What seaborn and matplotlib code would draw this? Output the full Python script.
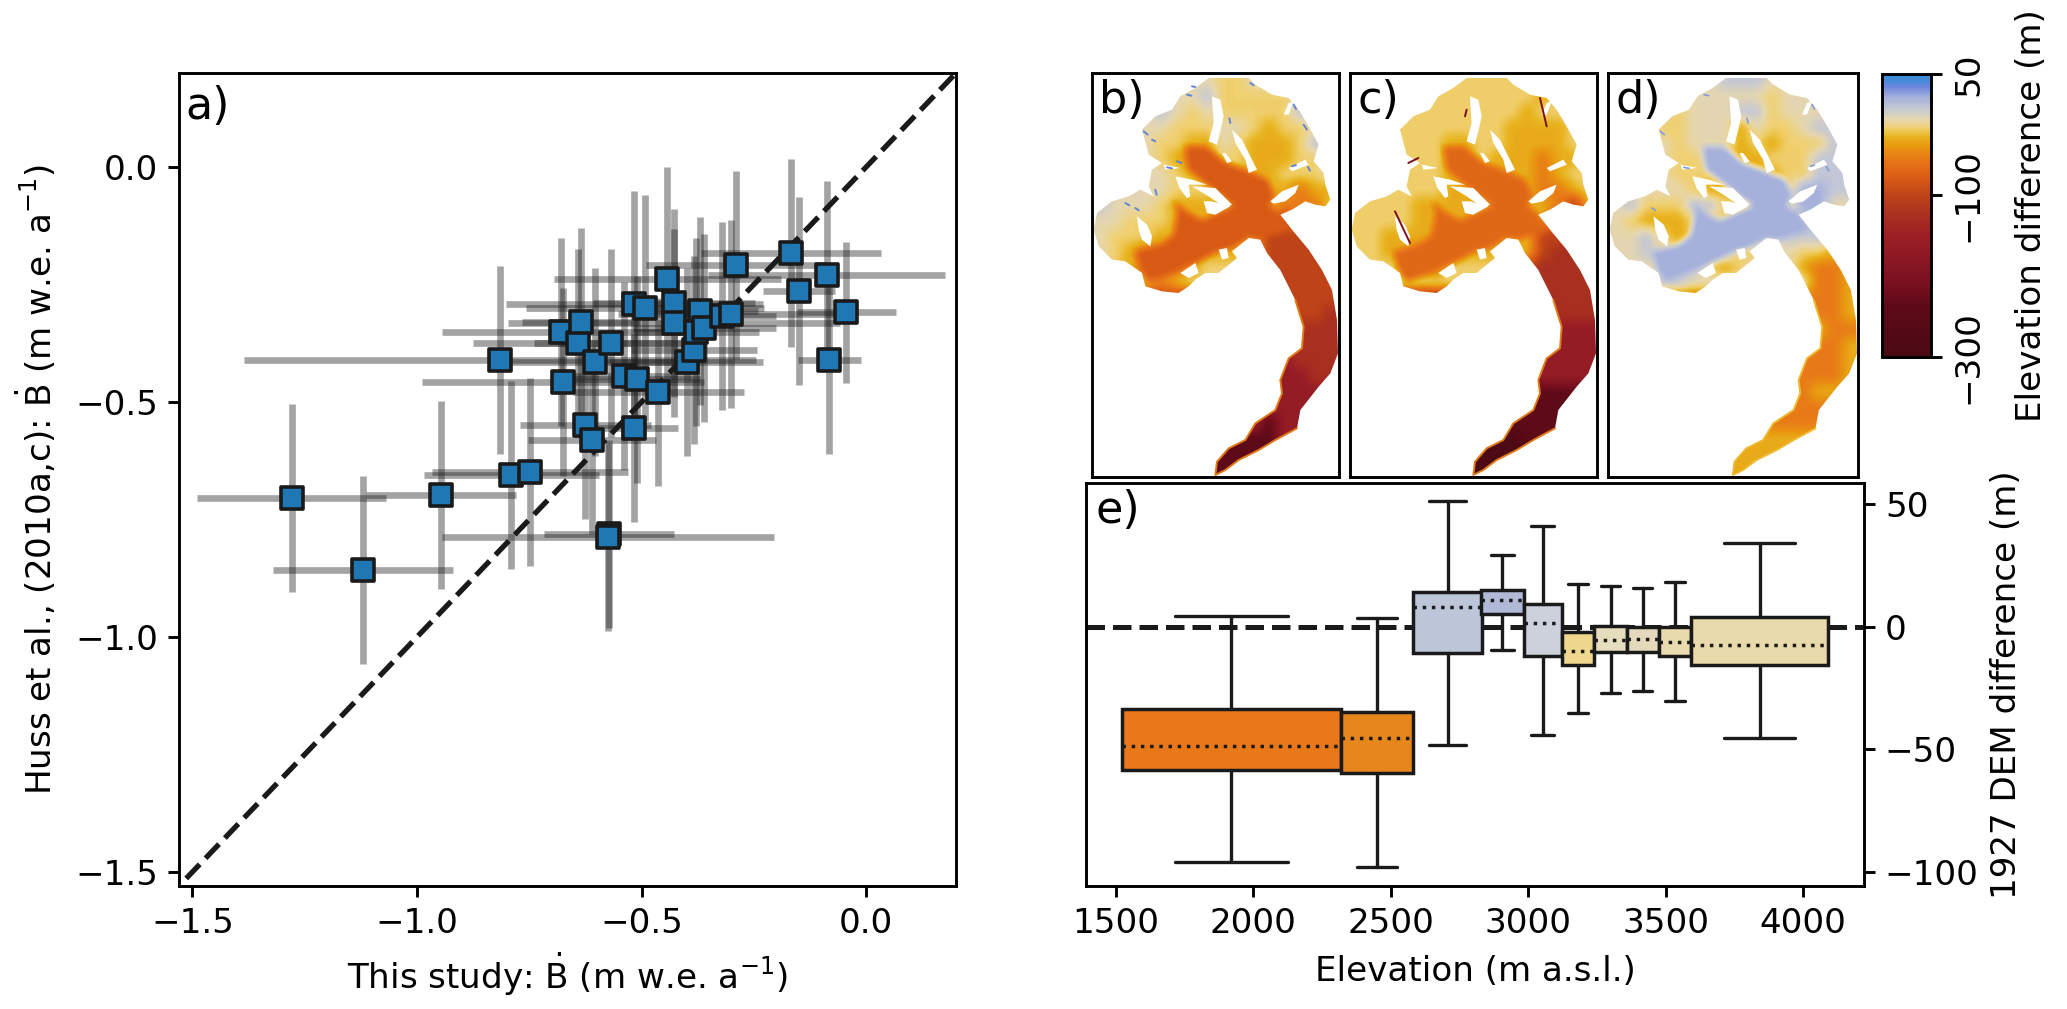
import numpy as np
import matplotlib
matplotlib.use('Agg')
import matplotlib.pyplot as plt
from matplotlib.colors import LinearSegmentedColormap, Normalize
from matplotlib.cm import ScalarMappable
from matplotlib.patches import Polygon
from matplotlib.path import Path
import seaborn as sns

# ----------- panel a : mass balance comparison -----------
this_study = [-1.279, -1.12, -0.947, -0.815, -0.79, -0.748, -0.675, -0.68, -0.642, -0.636,
              -0.625, -0.61, -0.604, -0.569, -0.54, -0.51, -0.516, -0.516, -0.493, -0.463,
              -0.443, -0.428, -0.428, -0.40, -0.384, -0.37, -0.378, -0.36, -0.32, -0.302,
              -0.29, -0.167, -0.15, -0.088, -0.082, -0.044, -0.572, -0.575]
huss = [-0.705, -0.857, -0.697, -0.41, -0.655, -0.649, -0.458, -0.351, -0.374, -0.329,
        -0.55, -0.58, -0.416, -0.374, -0.444, -0.452, -0.556, -0.292, -0.30, -0.478,
        -0.239, -0.289, -0.331, -0.416, -0.39, -0.306, -0.351, -0.343, -0.317, -0.312,
        -0.208, -0.183, -0.264, -0.23, -0.41, -0.309, -0.781, -0.787]
this_study_err = [.21, .2, .167, .57, .195, .218, .315, .265, .233, .13,
                  .146, .142, .19, .17, .15, .14, .096, .287, .265, .19,
                  .253, .18, .37, .17, .14, .13, .14, .16, .12, .25,
                  .2, .2, .08, .264, .07, .11, .145, .37]
huss_err = [.2, .2, .2, .2, .2, .2, .2, .2, .2, .2,
            .2, .2, .2, .2, .2, .22, .2, .24, .24, .2,
            .24, .2, .2, .2, .2, .2, .2, .2, .2, .2,
            .2, .2, .2, .2, .2, .15, .2, .2]
one_to_one = [-1.6, 0.3]
ticks_a = [-1.5, -1.0, -0.5, 0.0]

# ----------- panel e : boxes per elevation band -----------
band_centre = [1920, 2450, 2707, 2907, 3053, 3181, 3300, 3418, 3535, 3843]
band_width = [796, 264, 249, 153, 138, 118, 120, 115, 119, 498]
cap_width = [411, 143, 137, 85, 82, 72, 71, 69, 72, 259]
q1 = [-58.3, -59.8, -10.9, 5.2, -12.1, -15.5, -10.3, -10.3, -11.8, -15.6]
q3 = [-33.4, -34.7, 14.0, 14.8, 9.2, -2.4, 0.4, 0.0, 0.0, 4.1]
med = [-48.7, -45.2, 8.0, 11.0, 1.4, -9.9, -5.4, -5.2, -6.4, -7.5]
whis_low = [-96.0, -97.8, -48.2, -9.6, -44.0, -35.1, -26.9, -26.2, -30.3, -45.5]
whis_high = [4.3, 3.3, 51.0, 29.3, 40.8, 17.2, 16.7, 15.6, 18.2, 33.9]
band_colour = ['#e8781a', '#e8861e', '#bdc5d8', '#b0bad8', '#cdd1db',
               '#efd88e', '#e6ddbe', '#e4dabb', '#e9dbae', '#e9daab']

# ----------- panels b,c,d : glacier elevation change (coarse read of the maps) -----------
levels = {'y': 21, 'a': 8, 'b': -6, 'c': -17, 'd': -31, 'e': -54, 'f': -79,
          'g': -100, 'h': -125, 'i': -162, 'j': -237, 'k': -292}

map_b = ["bbbbbbbbccbbbbbb",
         "bbbbbbbacccccbbb",
         "bbbbabcbcccccaaa",
         "aabbbcccbbcdccba",
         "bbbbccddbcdddcab",
         "bbbbcdedccdddcca",
         "bbbbbcddcdddcccb",
         "abbbbcccdddddedd",
         "abbbcdddddddeeec",
         "bbcccdddddddgdcc",
         "bcccdddddddggggg",
         "bcdeeeeddddggggg",
         "bcdeeedcccbggggg",
         "bbbdedccbbbggggg",
         "gggggggggggggggg",
         "gggggggggggggggh",
         "hhhhhhhhhhhhhhhh",
         "hhhhhhhhhhhhhhhh",
         "iiiiiiiiiiiiihhh",
         "iiiiiiiiiiiiiihh",
         "iiiiiiiiiiiiiiii",
         "iiiiiiiiiiiiiiii",
         "iiiiiiiiiiijiiii",
         "jjjjjjjjjjjjiiii",
         "jjjjjjjjjjjjjjjj",
         "jjjjjjjjjjjjjjjj"]

map_c = ["cccccccccccccccc",
         "ccccccccccccdccc",
         "cccccccccccdcccc",
         "ccccccccccddddcc",
         "ccccccddccddddcc",
         "ccccccddcdddeddc",
         "ccccccddcdddedcc",
         "ccccccddddddeedc",
         "ccccdddddddddegd",
         "ccccdddddddddgge",
         "ccddddddddddgggg",
         "ccddeeedddddghhh",
         "ccccdecccccghhhh",
         "ccccccccccchhhhh",
         "hhhhhhhhhhhhhhhh",
         "iiiiiiiiiiiiihhh",
         "iiiiiiiiiiiiiiii",
         "iiiiiiiiiiiiiiii",
         "iiiiiiiiiiiiiiii",
         "jjjjjjjjjjjjiiii",
         "jjjjjjjjjjjjjjjj",
         "jjjjjjjjjjjjjjjj",
         "jjjjjjjjjjjjjjjj",
         "kkkkkkkkkkkjjjjj",
         "kkkkkkkkkkkkkkkk",
         "kkkkkkkkkkkkkkkk"]

map_d = ["bbbbbbbaaabbbbbb",
         "bbbbbbbbbbcbbbbb",
         "bbbbcbbbaacbbbbb",
         "bbbccbbbdbccbaab",
         "bbbbcbbbdcdcccab",
         "bbbbccbcddcccaaa",
         "bbbbcccddddccaaa",
         "bbbbbcddacccyyaa",
         "bacccaacdcccyybb",
         "bcdddcccccaaaabb",
         "bbacdccccaaaaabb",
         "bbabbbbacccbccdd",
         "bbbbbacdcbbbdeed",
         "bbbaabbbbbbbbeed",
         "eeeeeeeeeeeeeeed",
         "eeeeeeeeeeeeeeed",
         "eeeeeeeeeeeeedee",
         "eeeeeeeeeeeeeeed",
         "eeeeeeeeeeeeeeed",
         "eeeeeeeeeeeeeeed",
         "eeeeeeeeeeeeeddd",
         "eeeeeeeeeeeeeeee",
         "eeeeeeeeeeeeeeee",
         "dddddddddddddddd",
         "dddddddddddddddd",
         "dddddddddddddddd"]

# main ice stream, one value per panel
trunk = [(280, 222), (345, 222), (400, 268), (470, 295), (525, 320), (548, 370), (530, 395),
         (565, 425), (600, 470), (505, 500), (470, 495), (420, 525), (380, 535), (300, 575), (230, 605),
         (170, 625), (145, 590), (130, 535), (210, 515), (245, 485), (258, 415), (245, 385), (290, 420),
         (330, 442), (428, 398), (345, 335), (290, 290)]
trunk_value = [-79, -68, 21]

# glacier outline and rock outcrops, in map units (3 per figure pixel)
outline = [(350, 15), (470, 15), (490, 35), (540, 65), (590, 75), (620, 110), (650, 160), (680, 215),
           (665, 265), (695, 300), (700, 335), (715, 380), (700, 400), (670, 395), (640, 385), (600, 410),
           (565, 425), (600, 470), (650, 530), (690, 591), (720, 651), (735, 741), (738, 841), (715, 901),
           (680, 941), (625, 1011), (615, 1066), (550, 1101), (500, 1131), (440, 1161), (400, 1191), (370, 1206),
           (375, 1166), (410, 1126), (460, 1101), (490, 1051), (550, 1011), (570, 961), (565, 921), (590, 856),
           (630, 826), (635, 761), (610, 681), (565, 591), (525, 540), (505, 500), (470, 495), (420, 535),
           (435, 555), (380, 600), (340, 600), (310, 620), (290, 640), (260, 660), (210, 655), (160, 640),
           (150, 600), (100, 565), (60, 560), (20, 520), (5, 470), (15, 420), (60, 385), (110, 370),
           (145, 350), (185, 370), (170, 340), (180, 290), (210, 270), (170, 245), (150, 170), (190, 130),
           (240, 110), (265, 70), (310, 45)]
tongue_rim = [(615, 1066), (550, 1101), (500, 1131), (440, 1161), (400, 1191), (370, 1206),
              (375, 1166), (410, 1126), (460, 1101), (490, 1051), (550, 1011), (570, 961), (565, 921), (590, 856),
              (630, 826), (635, 761), (610, 681)]
rim_colour = ['#e07a18', '#e07a18', '#efb830']
outcrops = [[(360, 70), (385, 80), (395, 130), (385, 175), (375, 215), (350, 205), (365, 150), (362, 105)],
            [(390, 240), (400, 240), (420, 265), (405, 270)],
            [(420, 170), (450, 200), (470, 240), (495, 290), (470, 300), (460, 260), (430, 210)],
            [(535, 385), (570, 355), (620, 335), (610, 360), (580, 385), (545, 392)],
            [(250, 310), (300, 320), (345, 335), (290, 335), (295, 370), (285, 375), (262, 345)],
            [(300, 340), (370, 345), (420, 395), (400, 405), (350, 370)],
            [(335, 385), (360, 385), (415, 400), (370, 425), (345, 420)],
            [(135, 430), (165, 455), (180, 490), (175, 520), (150, 500), (140, 470)],
            [(590, 90), (605, 85), (590, 125), (575, 125)],
            [(380, 530), (405, 525), (410, 555), (390, 560)],
            [(265, 600), (310, 570), (320, 600), (290, 615)],
            [(590, 285), (640, 260), (650, 275), (600, 295)],
            [(215, 275), (265, 285), (220, 290)]]
blue_streaks = [[(155, 175), (167, 185)], [(285, 65), (298, 68)], [(225, 283), (240, 286)], [(130, 405), (140, 412)],
                [(600, 280), (612, 276)], [(648, 282), (654, 293)], [(605, 95), (612, 108)], [(415, 150), (412, 136)],
                [(100, 390), (112, 397)], [(475, 30), (485, 37)], [(190, 350), (194, 365)], [(635, 155), (645, 170)],
                [(180, 200), (190, 205)], [(300, 40), (310, 42)], [(255, 265), (268, 270)]]
red_streaks = [[(570, 75), (590, 160)], [(175, 270), (205, 255)], [(135, 415), (180, 510)], [(350, 110), (345, 130)]]
streaks = [(blue_streaks, '#5f86d8', 0.7), (red_streaks, '#7a1020', 0.7), (blue_streaks[:8], '#7f9ae0', 0.6)]

# colour bar read from the top (50) to the bottom (-300)
cbar_stops = [(0.00, '#4a0a14'), (0.18, '#5e0a18'), (0.26, '#7a1020'), (0.37, '#901a25'),
              (0.43, '#9c2025'), (0.50, '#a83020'), (0.574, '#bf4418'), (0.63, '#d85a15'),
              (0.70, '#e87818'), (0.75, '#e89a10'), (0.78, '#e8b520'), (0.81, '#f0d070'),
              (0.84, '#e6d7ae'), (0.88, '#c4c8d6'), (0.92, '#a4b0dc'), (0.955, '#6e88de'),
              (0.975, '#4c88dc'), (1.00, '#3090d8')]
cbar_ticks = [50, -100, -300]

W, H = 2067, 1009
LW = 1.05
FS = 12.3

sns.set_theme(style='ticks', rc={
    'font.family': ['DejaVu Sans'], 'font.size': FS, 'axes.labelsize': FS,
    'xtick.labelsize': FS, 'ytick.labelsize': FS, 'axes.linewidth': LW,
    'xtick.major.width': LW, 'ytick.major.width': LW, 'xtick.major.size': 4, 'ytick.major.size': 4,
    'mathtext.default': 'regular', 'axes.edgecolor': 'black', 'xtick.color': 'black', 'ytick.color': 'black',
    'text.color': 'black', 'axes.labelcolor': 'black'})


def px_axes(fig, left, top, right, bottom):
    return fig.add_axes([left / W, 1 - bottom / H, (right - left) / W, (bottom - top) / H])


def box_blur(arr, size):
    # running mean along both axes, edges repeated
    kernel = np.ones(size) / size
    pad = size // 2
    for axis in (0, 1):
        arr = np.apply_along_axis(lambda r: np.convolve(np.pad(r, pad, mode='edge'), kernel, mode='valid'), axis, arr)
    return arr


def map_raster(rows, stream):
    values = np.array([[levels[c] for c in row] for row in rows], dtype=float)
    raster = box_blur(np.kron(values, np.ones((15, 15))), 15)
    ny, nx = raster.shape
    xx, yy = np.meshgrid((np.arange(nx) + 0.5) * 741 / nx, (np.arange(ny) + 0.5) * 1212 / ny)
    inside = Path(trunk).contains_points(np.column_stack([xx.ravel(), yy.ravel()])).reshape(ny, nx)
    raster[inside] = stream
    return box_blur(raster, 9)


fig = plt.figure(figsize=(W / 200, H / 200), dpi=200)

# ----------- a) -----------
ax = px_axes(fig, 179, 73, 956, 886)
ax.errorbar(this_study, huss, xerr=this_study_err, yerr=huss_err, fmt='none', ecolor='k',
            elinewidth=2.4, alpha=0.4, zorder=2)
sns.lineplot(x=one_to_one, y=one_to_one, color='k', linestyle='--', linewidth=1.9, ax=ax, zorder=3)
sns.scatterplot(x=this_study, y=huss, marker='s', s=60, color='#1f77b4', edgecolor='k',
                linewidth=1.3, ax=ax, zorder=4)
ax.set_xlim(-1.53, 0.2)
ax.set_ylim(-1.53, 0.2)
ax.set_xticks(ticks_a)
ax.set_yticks(ticks_a)
ax.set_xlabel(r'This study: $\dot{B}$ (m w.e. a$^{-1}$)')
ax.set_ylabel(r'Huss et al., (2010a,c): $\dot{B}$ (m w.e. a$^{-1}$)', labelpad=6)
ax.text(0.008, 0.985, 'a)', transform=ax.transAxes, va='top', fontsize=16)

# ----------- b) c) d) -----------
cmap = LinearSegmentedColormap.from_list('diff', cbar_stops, N=256)
norm = Normalize(-300, 50)
panels = [('b)', map_b, 1092, 1339), ('c)', map_c, 1350, 1597), ('d)', map_d, 1608, 1858)]
for i, (name, rows, left, right) in enumerate(panels):
    ax = px_axes(fig, left, 73, right, 477)
    im = ax.imshow(map_raster(rows, trunk_value[i]), cmap=cmap, norm=norm, extent=(0, 741, 1212, 0),
                   aspect='auto', interpolation='bilinear')
    glacier = Polygon(outline, closed=True, fc='none', ec='none', transform=ax.transData)
    ax.add_patch(glacier)
    im.set_clip_path(glacier)
    ax.plot(*zip(*tongue_rim), color=rim_colour[i], linewidth=0.7)
    for rock in outcrops:
        ax.add_patch(Polygon(rock, closed=True, fc='white', ec='none'))
    lines, colour, width = streaks[i]
    for seg in lines:
        ax.plot(*zip(*seg), color=colour, linewidth=width)
    ax.set_xlim(0, 741)
    ax.set_ylim(1212, 0)
    ax.set_xticks([])
    ax.set_yticks([])
    ax.text(0.03, 0.985, name, transform=ax.transAxes, va='top', fontsize=16)

# colour bar
cax = px_axes(fig, 1882, 74, 1931, 357)
cb = fig.colorbar(ScalarMappable(norm=norm, cmap=cmap), cax=cax)
cb.set_ticks(cbar_ticks)
cb.ax.set_yticklabels([str(t).replace('-', '\u2212') for t in cbar_ticks], rotation=90, va='center')
cb.set_label('Elevation difference (m)', labelpad=11)

# ----------- e) -----------
ax = px_axes(fig, 1086, 483, 1864, 886)
ax.axhline(0, color='k', linestyle='--', linewidth=1.8, zorder=1)
stats = [dict(med=m, q1=a, q3=b, whislo=lo, whishi=hi, fliers=[])
         for m, a, b, lo, hi in zip(med, q1, q3, whis_low, whis_high)]
boxes = ax.bxp(stats, positions=band_centre, widths=band_width, capwidths=cap_width, patch_artist=True,
               showfliers=False, manage_ticks=False, zorder=2,
               boxprops=dict(linewidth=1.25, edgecolor='k'), whiskerprops=dict(linewidth=1.2, color='k'),
               capprops=dict(linewidth=1.2, color='k'), medianprops=dict(linewidth=1.25, color='k', linestyle=':'))
for patch, colour in zip(boxes['boxes'], band_colour):
    patch.set_facecolor(colour)
ax.set_xlim(1392, 4222)
ax.set_ylim(-105.7, 58.5)
ax.set_xticks([1500, 2000, 2500, 3000, 3500, 4000])
ax.set_yticks([-100, -50, 0, 50])
ax.yaxis.tick_right()
ax.yaxis.set_label_position('right')
ax.set_xlabel('Elevation (m a.s.l.)', labelpad=5.5)
ax.set_ylabel('1927 DEM difference (m)')
ax.text(0.012, 0.985, 'e)', transform=ax.transAxes, va='top', fontsize=16)

fig.savefig('out.png', dpi=200)
